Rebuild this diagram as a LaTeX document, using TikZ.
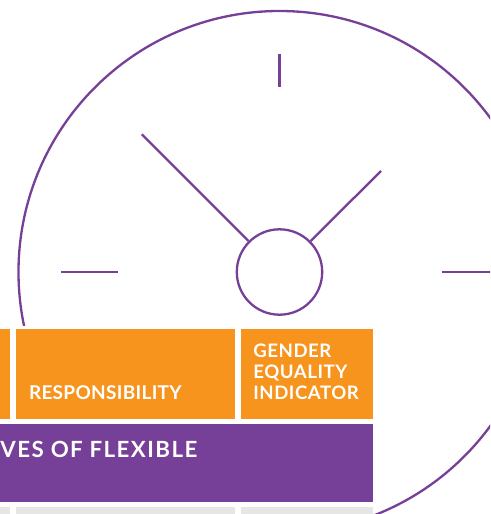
\documentclass[tikz,border=0pt]{standalone}
\usepackage{fontspec}
\setmainfont{Lato}
\definecolor{purp}{HTML}{763F98}
\definecolor{orng}{HTML}{F7941E}
\definecolor{lgray}{HTML}{E6E6E6}
\tikzset{
  clockline/.style={draw=purp, line width=2.3pt},
  lbl/.style={inner sep=0pt, outer sep=0pt, anchor=base west, text=white, font=\bfseries\fontsize{19}{21}\selectfont\addfontfeature{LetterSpace=1.6}},
  glbl/.style={inner sep=0pt, outer sep=0pt, anchor=base west, text=white, font=\bfseries\fontsize{18.6}{21}\selectfont\addfontfeature{LetterSpace=3}},
  blbl/.style={inner sep=0pt, outer sep=0pt, anchor=base west, text=white, font=\bfseries\fontsize{22.3}{26}\selectfont\addfontfeature{LetterSpace=6.4}}
}
\begin{document}
\begin{tikzpicture}[x=1pt,y=-1pt]
\useasboundingbox (0,0) rectangle (490,514);
\clip (0,0) rectangle (490,514);
% clock
\draw[clockline] (279.5,272) circle[radius=261];
\node[circle, clockline, minimum size=85.4pt, inner sep=0pt] (hub) at (279.5,272) {};
\coordinate (t1) at (279.5,54);   \coordinate (t2) at (279.5,87.3);
\coordinate (l1) at (61,272);     \coordinate (l2) at (117.7,272);
\coordinate (r1) at (441.7,272);  \coordinate (r2) at (497,272);
\coordinate (hl) at (141.7,134.3);
\coordinate (hr) at (381,171);
\draw[clockline] (t1) -- (t2);
\draw[clockline] (l1) -- (l2);
\draw[clockline] (r1) -- (r2);
\draw[clockline] (hl) -- (hub);
\draw[clockline] (hr) -- (hub);
% table background
\fill[white] (-2,326) rectangle (372.7,516);
% orange row
\fill[orng] (-2,328.7) rectangle (10.3,419);
\fill[orng] (15.6,328.7) rectangle (235.2,419);
\fill[orng] (240.6,328.7) rectangle (372.7,419);
% purple row
\fill[purp] (-2,423.5) rectangle (372.7,501.8);
% gray row
\fill[lgray] (-2,507.3) rectangle (10.3,516);
\fill[lgray] (15.6,507.3) rectangle (235.2,516);
\fill[lgray] (240.6,507.3) rectangle (372.7,516);
% labels
\node[lbl] (resp) at (29,399.3) {RESPONSIBILITY};
\node[glbl] (g1) at (253.3,357.3) {GENDER};
\node[glbl] (g2) at (253.3,378.3) {EQUALITY};
\node[glbl] (g3) at (253.3,399.3) {INDICATOR};
\node[blbl] (flex) at (0.5,457.7) {VES OF FLEXIBLE};
\end{tikzpicture}
\end{document}
